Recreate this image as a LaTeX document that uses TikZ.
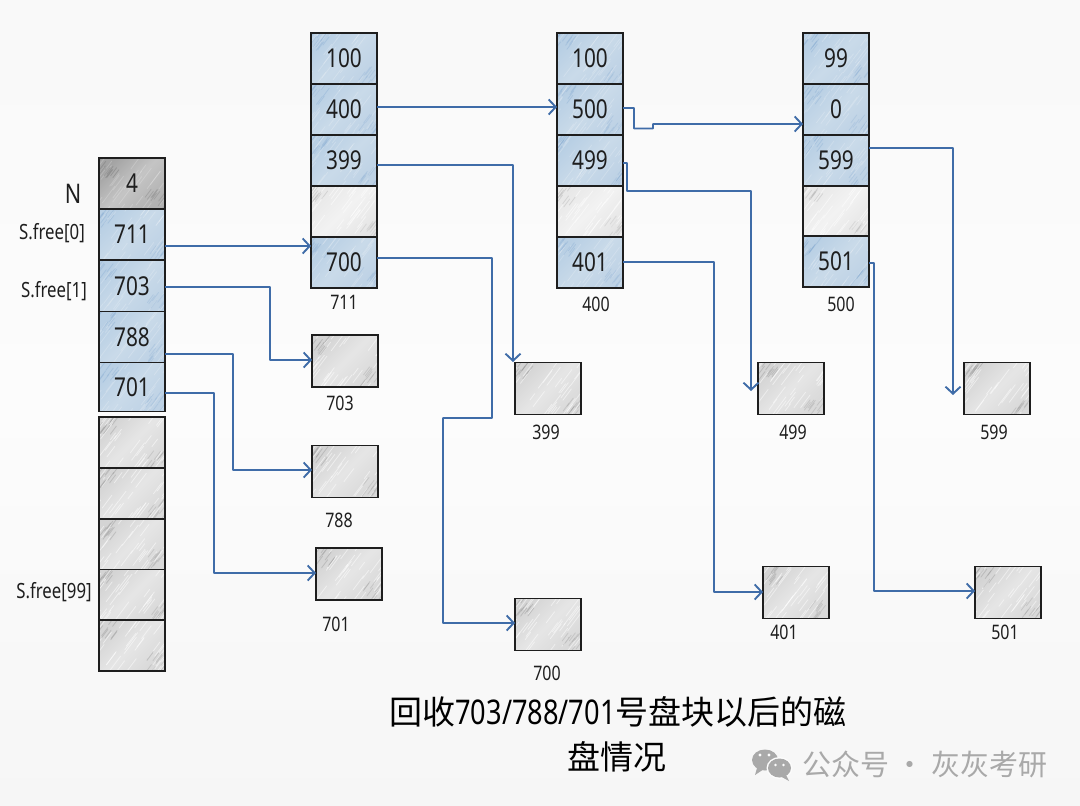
\documentclass[tikz,border=0pt]{standalone}
\usepackage{fontspec}
\usetikzlibrary{arrows.meta}
\newfontfamily\hand[FakeStretch=0.8]{Noto Sans}
\newfontfamily\cjk{Noto Sans CJK SC}
\definecolor{inkc}{HTML}{1E1E1E}
\definecolor{arrowc}{HTML}{3F6CA8}
\definecolor{wmark}{HTML}{A9A9A9}
\definecolor{paper}{HTML}{FCFCFC}
\definecolor{bluetop}{HTML}{B8CFE4}
\definecolor{bluebot}{HTML}{BED2E5}
\definecolor{bluemid}{HTML}{C9DAE9}
\definecolor{bluestroke}{HTML}{8CAFD4}
\pgfmathsetseed{4242}
\tikzset{
  sketch/.style n args={2}{path picture={
    \foreach \k in {1,...,34}{
      \pgfmathsetmacro{\px}{rnd*80-40}
      \pgfmathsetmacro{\py}{rnd*56-28}
      \pgfmathsetmacro{\len}{4+rnd*8}
      \draw[white,line width=.8pt,opacity=#1,line cap=round]
        ([xshift=\px pt,yshift=\py pt]path picture bounding box.center)
        ++(-.6*\len pt,-.8*\len pt) -- ++(1.2*\len pt,1.6*\len pt);
    }
    \foreach \k in {1,...,9}{
      \pgfmathsetmacro{\px}{rnd*17}
      \pgfmathsetmacro{\py}{rnd*17}
      \draw[#2,line width=.8pt,opacity=.4,line cap=round]
        ([xshift=\px pt,yshift=-\py pt]path picture bounding box.north west)
        ++(-3pt,-4pt) -- ++(6pt,8pt);
      \draw[#2,line width=.8pt,opacity=.3,line cap=round]
        ([xshift=-\px pt,yshift=\py pt]path picture bounding box.south east)
        ++(-3pt,-4pt) -- ++(6pt,8pt);
    }
  }},
  cellbase/.style={draw=inkc,line width=1.9pt,anchor=north west,inner sep=0pt,outer sep=0pt,
    minimum width=66pt,minimum height=51pt,text=inkc,font=\hand\fontsize{26}{28}\selectfont},
  bluecell/.style={cellbase,top color=bluetop,bottom color=bluebot,middle color=bluemid,
    shading angle=45,sketch={.2}{bluestroke}},
  emptycell/.style={cellbase,top color=black!9,bottom color=black!10,middle color=black!5,
    shading angle=45,sketch={.5}{black!30}},
  darkcell/.style={cellbase,top color=black!36,bottom color=black!30,middle color=black!23,
    shading angle=45,sketch={.2}{black!55}},
  greycell/.style={cellbase,top color=black!17,bottom color=black!15,middle color=black!10,
    shading angle=45,sketch={.5}{black!42}},
  diskbox/.style={greycell,minimum height=52pt},
  blocklabel/.style={inner sep=0pt,text=inkc,font=\hand\fontsize{20}{22}\selectfont},
  sidelabel/.style={inner sep=0pt,text=inkc,font=\hand\fontsize{21}{23}\selectfont},
  link/.style={draw=arrowc,line width=1.9pt,rounded corners=.5pt,-{Straight Barb[length=7pt,width=15pt,line width=1.9pt]}},
  titletext/.style={inner sep=0pt,text=black,font=\cjk\fontsize{33}{36}\selectfont},
  marktext/.style={inner sep=0pt,text=wmark,font=\cjk\fontsize{29}{32}\selectfont}
}
\begin{document}
\begin{tikzpicture}[x=1pt,y=-1pt]
\useasboundingbox (0,0) rectangle (1080,806);
\path[top color=black!2.5,bottom color=black!3.5,middle color=paper] (0,0) rectangle (1080,806);

% left stack
\node[darkcell] (a4) at (99,158) {4};
\node[bluecell] (a711) at (99,209) {711};
\node[bluecell] (a703) at (99,260.5) {703};
\node[bluecell] (a788) at (99,311.5) {788};
\node[bluecell,minimum height=49pt] (a701) at (99,362.5) {701};
\node[greycell] (e1) at (99,417) {};
\node[greycell] (e2) at (99,468) {};
\node[greycell] (e3) at (99,519) {};
\node[greycell] (e4) at (99,569.5) {};
\node[greycell] (e5) at (99,620) {};

% first block
\node[bluecell] (b100) at (311,33) {100};
\node[bluecell] (b400) at (311,84) {400};
\node[bluecell] (b399) at (311,135) {399};
\node[emptycell] (bx) at (311,186) {};
\node[bluecell] (b700) at (311,237) {700};
% second block
\node[bluecell] (c100) at (557,33) {100};
\node[bluecell] (c500) at (557,84) {500};
\node[bluecell] (c499) at (557,135) {499};
\node[emptycell] (cx) at (557,186) {};
\node[bluecell] (c401) at (557,237) {401};
% third block
\node[bluecell] (d99) at (803,33) {99};
\node[bluecell] (d0) at (803,84) {0};
\node[bluecell] (d599) at (803,135) {599};
\node[emptycell] (dx) at (803,186) {};
\node[bluecell] (d501) at (803,236) {501};

% free disk blocks
\node[diskbox] (p703) at (312,335) {};
\node[diskbox] (p788) at (312,445.5) {};
\node[diskbox] (p701) at (316,548) {};
\node[diskbox] (p399) at (515,362.5) {};
\node[diskbox] (p700) at (515,598.5) {};
\node[diskbox] (p499) at (758,362.5) {};
\node[diskbox] (p401) at (763,566.5) {};
\node[diskbox] (p599) at (964,362.5) {};
\node[diskbox] (p501) at (975,566.5) {};

% labels
\node[blocklabel] (l711) at (344,302) {711};
\node[blocklabel] (l400) at (596,304) {400};
\node[blocklabel] (l500) at (841,304) {500};
\node[blocklabel] (l703) at (340,403) {703};
\node[blocklabel] (l788) at (339,520) {788};
\node[blocklabel] (l701) at (336,624) {701};
\node[blocklabel] (l399) at (546,432) {399};
\node[blocklabel] (l700) at (547,673) {700};
\node[blocklabel] (l499) at (793,432) {499};
\node[blocklabel] (l401) at (784,632) {401};
\node[blocklabel] (l599) at (994,432) {599};
\node[blocklabel] (l501) at (1005,632) {501};
\node[inner sep=0pt,text=inkc,font=\hand\fontsize{27}{29}\selectfont] (nN) at (73,194) {N};
\node[sidelabel] (s0) at (52,233) {S.free[0]};
\node[sidelabel] (s1) at (54,291) {S.free[1]};
\node[sidelabel] (s99) at (54,592) {S.free[99]};

% connectors
\draw[link] (a711.east |- 0,246) -- (b700.west |- 0,246);
\draw[link] (a703.east |- 0,287) -- (270,287) -- (270,360) -- (p703.west |- 0,360);
\draw[link] (a788.east |- 0,354) -- (233,354) -- (233,470) -- (p788.west |- 0,470);
\draw[link] (a701.east |- 0,393) -- (214,393) -- (214,573) -- (p701.west |- 0,573);
\draw[link] (b400.east |- 0,107) -- (c500.west |- 0,107);
\draw[link] (b399.east |- 0,165) -- (513,165) -- (513,362);
\draw[link] (b700.east |- 0,258) -- (492,258) -- (492,418) -- (443,418) -- (443,623) -- (p700.west |- 0,623);
\draw[link] (c500.east |- 0,108) -- (634,108) -- (634,128.5) -- (653,128.5) -- (653,124) -- (d0.west |- 0,124);
\draw[link] (c499.east |- 0,163) -- (627,163) -- (627,191) -- (751,191) -- (751,391);
\draw[link] (c401.east |- 0,262) -- (714,262) -- (714,592) -- (p401.west |- 0,592);
\draw[link] (d599.east |- 0,148) -- (953,148) -- (953,395);
\draw[link] (d501.east |- 0,263) -- (874,263) -- (874,591) -- (p501.west |- 0,591);

% title
\node[titletext] (t1) at (618,712) {回收{\hand\fontsize{34}{36}\selectfont 703/788/701}号盘块以后的磁};
\node[titletext] (t2) at (617,757) {盘情况};

% watermark
\fill[wmark] (765,760) ellipse (13pt and 10.5pt);
\fill[wmark] (757,768) -- (755,775) -- (764,769) -- cycle;
\fill[paper] (779.5,768) ellipse (13pt and 11pt);
\fill[wmark] (779.5,768) ellipse (11.5pt and 9.5pt);
\fill[wmark] (786,775) -- (789,781) -- (780,776) -- cycle;
\fill[paper] (760,755) circle (1.7pt) (769,755) circle (1.7pt) (775.5,765) circle (1.4pt) (783.5,765) circle (1.4pt);
\node[marktext,anchor=west] (w) at (802,764) {公众号 · 灰灰考研};
\end{tikzpicture}
\end{document}
